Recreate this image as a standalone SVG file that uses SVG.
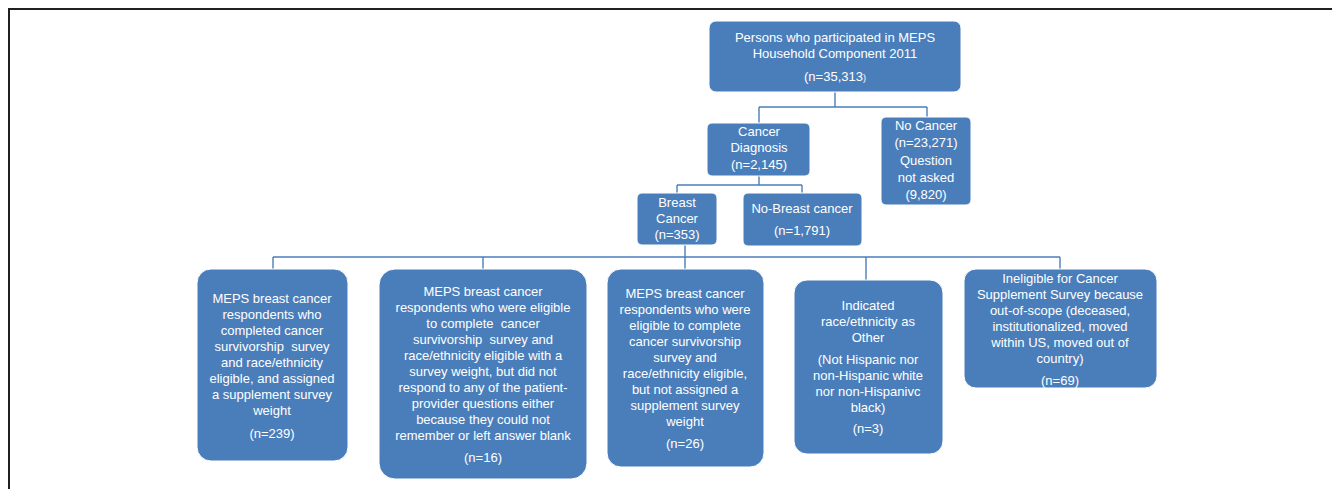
<svg xmlns="http://www.w3.org/2000/svg" width="1332" height="489" viewBox="0 0 1332 489">
<style>
.box{fill:#4a7ebb;stroke:#ffffff;stroke-width:1}
.t{font-family:"Liberation Sans",Arial,sans-serif;font-size:13px;fill:#ffffff;text-anchor:middle}
.c{fill:none;stroke:#4a7ebb;stroke-width:1.4}
</style>
<rect width="1332" height="489" fill="#ffffff"/>
<path d="M9,489 V9 H1332" fill="none" stroke="#231f20" stroke-width="2"/>
<g id="connectors">
<path class="c" d="M835,91 V107 M759,107 H927 M759,107 V123 M927,107 V117"/>
<path class="c" d="M759,176 V185 M677,185 H802 M677,185 V193 M802,185 V193"/>
<path class="c" d="M685,245 V257 M273,257 H1060 M273,257 V269 M483,257 V269 M685,257 V269 M866,257 V280 M1060,257 V269"/>
</g>
<g id="n-top">
<rect class="box" x="709" y="21" width="252" height="71" rx="7"/>
<text class="t" x="835" y="42">Persons who participated in MEPS</text>
<text class="t" x="835" y="58">Household Component 2011</text>
<text class="t" x="835" y="81">(n=35,313<tspan font-size="9">)</tspan></text>
</g>
<g id="n-cancer">
<rect class="box" x="707" y="123" width="103" height="53" rx="5"/>
<text class="t" x="759" y="136">Cancer</text>
<text class="t" x="759" y="152">Diagnosis</text>
<text class="t" x="759" y="169">(n=2,145)</text>
</g>
<g id="n-nocancer">
<rect class="box" x="881" y="117" width="90" height="88" rx="5"/>
<text class="t" x="926" y="130">No Cancer</text>
<text class="t" x="926" y="147">(n=23,271)</text>
<text class="t" x="926" y="165">Question</text>
<text class="t" x="926" y="182">not asked</text>
<text class="t" x="926" y="199">(9,820)</text>
</g>
<g id="n-breast">
<rect class="box" x="637" y="193" width="80" height="52" rx="5"/>
<text class="t" x="677" y="207">Breast</text>
<text class="t" x="677" y="223">Cancer</text>
<text class="t" x="677" y="239">(n=353)</text>
</g>
<g id="n-nobreast">
<rect class="box" x="743" y="193" width="119" height="53" rx="5"/>
<text class="t" x="802" y="213">No-Breast cancer</text>
<text class="t" x="802" y="235">(n=1,791)</text>
</g>
<g id="n-239">
<rect class="box" x="197" y="269" width="151" height="192" rx="14"/>
<text class="t" x="272" y="303">MEPS breast cancer</text>
<text class="t" x="272" y="319">respondents who</text>
<text class="t" x="272" y="335">completed cancer</text>
<text class="t" x="272" y="351" xml:space="preserve">survivorship  survey</text>
<text class="t" x="272" y="367">and race/ethnicity</text>
<text class="t" x="272" y="383">eligible, and assigned</text>
<text class="t" x="272" y="399">a supplement survey</text>
<text class="t" x="272" y="415">weight</text>
<text class="t" x="272" y="438">(n=239)</text>
</g>
<g id="n-16">
<rect class="box" x="379" y="269" width="208" height="210" rx="16"/>
<text class="t" x="483" y="296">MEPS breast cancer</text>
<text class="t" x="483" y="312">respondents who were eligible</text>
<text class="t" x="483" y="328" xml:space="preserve">to complete  cancer</text>
<text class="t" x="483" y="344" xml:space="preserve">survivorship  survey and</text>
<text class="t" x="483" y="360">race/ethnicity eligible with a</text>
<text class="t" x="483" y="376">survey weight, but did not</text>
<text class="t" x="483" y="392">respond to any of the patient-</text>
<text class="t" x="483" y="408">provider questions either</text>
<text class="t" x="483" y="424">because they could not</text>
<text class="t" x="483" y="440">remember or left answer blank</text>
<text class="t" x="483" y="462">(n=16)</text>
</g>
<g id="n-26">
<rect class="box" x="607" y="269" width="157" height="198" rx="14"/>
<text class="t" x="685" y="298">MEPS breast cancer</text>
<text class="t" x="685" y="314">respondents who were</text>
<text class="t" x="685" y="330">eligible to complete</text>
<text class="t" x="685" y="346">cancer survivorship</text>
<text class="t" x="685" y="362">survey and</text>
<text class="t" x="685" y="378">race/ethnicity eligible,</text>
<text class="t" x="685" y="394">but not assigned a</text>
<text class="t" x="685" y="410">supplement survey</text>
<text class="t" x="685" y="426">weight</text>
<text class="t" x="685" y="448">(n=26)</text>
</g>
<g id="n-3">
<rect class="box" x="794" y="280" width="149" height="174" rx="13"/>
<text class="t" x="868" y="310">Indicated</text>
<text class="t" x="868" y="326">race/ethnicity as</text>
<text class="t" x="868" y="342">Other</text>
<text class="t" x="868" y="364">(Not Hispanic nor</text>
<text class="t" x="868" y="380">non-Hispanic white</text>
<text class="t" x="868" y="396">nor non-Hispanivc</text>
<text class="t" x="868" y="412">black)</text>
<text class="t" x="868" y="433">(n=3)</text>
</g>
<g id="n-69">
<rect class="box" x="964" y="269" width="193" height="119" rx="12"/>
<text class="t" x="1060" y="283">Ineligible for Cancer</text>
<text class="t" x="1060" y="299">Supplement Survey because</text>
<text class="t" x="1060" y="315">out-of-scope (deceased,</text>
<text class="t" x="1060" y="331">institutionalized, moved</text>
<text class="t" x="1060" y="347">within US, moved out of</text>
<text class="t" x="1060" y="363">country)</text>
<text class="t" x="1060" y="385">(n=69)</text>
</g>
</svg>
